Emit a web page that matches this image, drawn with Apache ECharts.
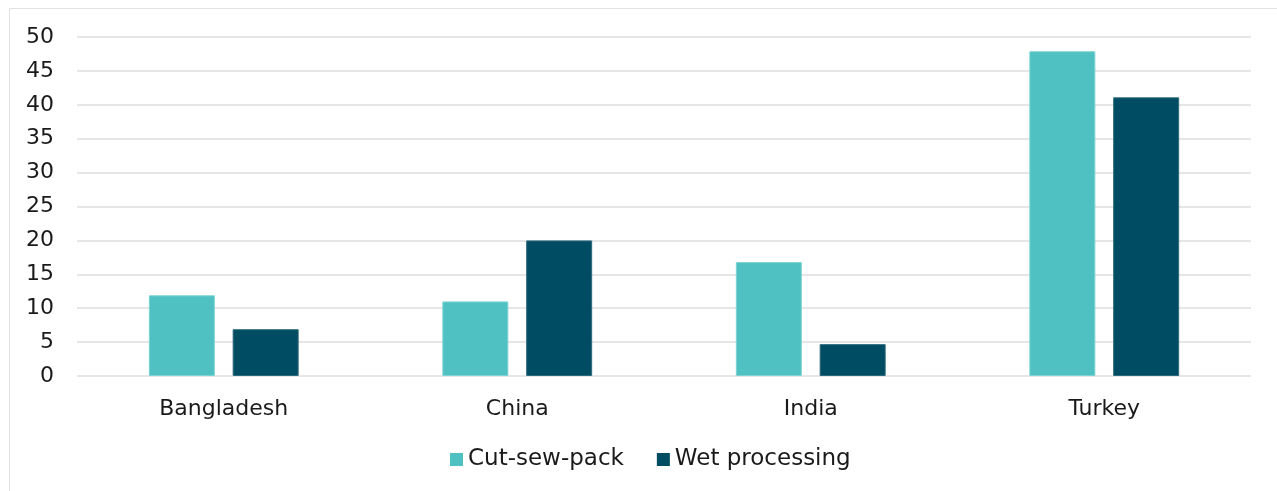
<!DOCTYPE html>
<html>
<head>
<meta charset="utf-8">
<script src="https://cdn.jsdelivr.net/npm/echarts@6/dist/echarts.min.js"></script>
<style>
  html, body { margin: 0; padding: 0; background: #fff; }
  #chart { width: 1277px; height: 491px; }
</style>
</head>
<body>
<div id="chart"></div>
<script>
// Countries on the category axis
const categories = ['Bangladesh', 'China', 'India', 'Turkey'];
// Series values
const cutSewPack = [11.9, 11, 16.8, 47.9];
const wetProcessing = [6.9, 20, 4.7, 41.1];
// Value-axis ticks
const yMin = 0, yMax = 50, yStep = 5;

const textColor = '#1a1a1a';
const font = 'DejaVu Sans, Verdana, sans-serif';

const chart = echarts.init(document.getElementById('chart'), null, { renderer: 'canvas' });
chart.setOption({
  backgroundColor: '#ffffff',
  animation: false,
  graphic: [{
    type: 'rect',
    shape: { x: 9.5, y: 8.5, width: 1400, height: 600 },
    style: { fill: 'none', stroke: '#e2e2e2', lineWidth: 1 },
    silent: true, z: -1
  }],
  grid: { left: 77, right: 26, top: 37, bottom: 115, containLabel: false },
  legend: {
    left: 445, top: 443,
    itemWidth: 13, itemHeight: 13, itemGap: 33,
    icon: 'rect',
    itemStyle: { borderWidth: 0 },
    textStyle: { color: textColor, fontFamily: font, fontSize: 23 },
    data: ['Cut-sew-pack', 'Wet processing']
  },
  xAxis: {
    type: 'category',
    data: categories,
    axisLine: { show: false },
    axisTick: { show: false },
    axisLabel: { color: textColor, fontFamily: font, fontSize: 22, margin: 22 }
  },
  yAxis: {
    type: 'value',
    min: yMin, max: yMax, interval: yStep,
    axisLine: { show: false },
    axisTick: { show: false },
    axisLabel: { color: textColor, fontFamily: font, fontSize: 22, margin: 23 },
    splitLine: { lineStyle: { color: '#e6e6e6', width: 2 } }
  },
  series: [
    {
      name: 'Cut-sew-pack', type: 'bar', data: cutSewPack,
      barWidth: 66, barGap: '27%',
      itemStyle: { color: '#4fc1c2', borderColor: '#7dd3d3', borderWidth: 1 }
    },
    {
      name: 'Wet processing', type: 'bar', data: wetProcessing,
      barWidth: 66,
      itemStyle: { color: '#004c63', borderColor: '#2e6a7d', borderWidth: 1 }
    }
  ]
});
</script>
</body>
</html>
